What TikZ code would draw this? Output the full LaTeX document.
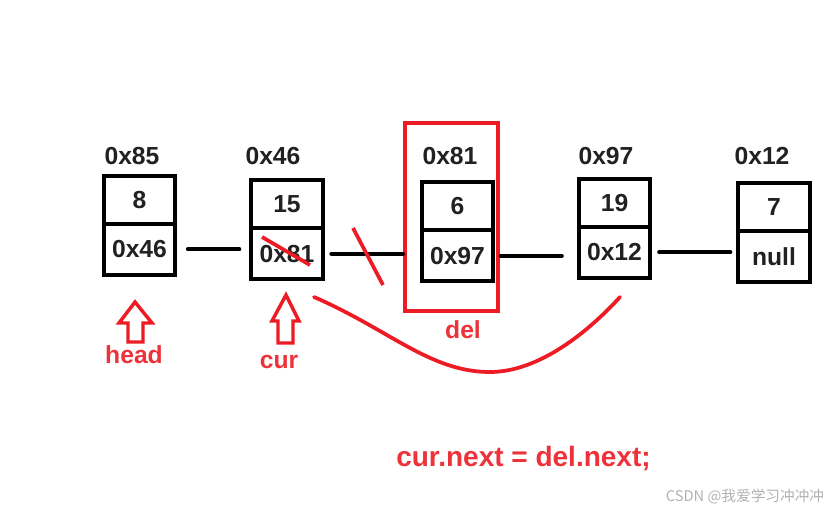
\documentclass[tikz,border=0pt]{standalone}
\usepackage{fontspec}
\setmainfont{Liberation Sans}
\newfontfamily\cjk{Noto Sans CJK SC}
\usetikzlibrary{positioning}
\definecolor{markred}{RGB}{237,28,36}
\definecolor{textred}{RGB}{238,50,58}
\begin{document}
\begin{tikzpicture}[
    x = 0.75pt, y = -0.75pt,
    font = \fontsize{18.5pt}{22pt}\selectfont\bfseries,
    cell/.style = {rectangle, draw, line width=3pt, minimum width=53.5pt, inner sep=0pt, outer sep=0pt, text=black!87},
    valcell/.style = {cell, minimum height=36pt},
    ptrcell/.style = {cell, minimum height=38pt},
    addr/.style = {text=black!87},
    link/.style = {line width=3pt, line cap=round},
    cross/.style = {draw=markred, line width=2.8pt},
    ptr/.style = {draw=markred, line width=2.6pt, line join=miter},
    tag/.style = {text=textred}
]
    \fill[white] (0,0) rectangle (839,513);
    \useasboundingbox (0,0) rectangle (839,513);

    % the list nodes
    \node[valcell] (v1) at (139.5,200) {8};
    \node[ptrcell, below=0pt of v1] (p1) {0x46};
    \node[addr] (a1) at (132,156) {0x85};

    \node[valcell] (v2) at (287,204.5) {15};
    \node[ptrcell, below=0pt of v2] (p2) {0x81};
    \node[addr] (a2) at (273,156) {0x46};

    \node[valcell] (v3) at (457.5,206.5) {6};
    \node[ptrcell, below=0pt of v3] (p3) {0x97};
    \node[addr] (a3) at (450,156) {0x81};

    \node[valcell] (v4) at (614.5,203) {19};
    \node[ptrcell, below=0pt of v4] (p4) {0x12};
    \node[addr] (a4) at (606,156) {0x97};

    \node[valcell] (v5) at (774,207.5) {7};
    \node[ptrcell, below=0pt of v5] (p5) {null};
    \node[addr] (a5) at (762,156) {0x12};

    % node to delete
    \node[draw=markred, line width=3pt, minimum width=69.75pt, minimum height=141pt, inner sep=0pt, outer sep=0pt] (delbox) at (451.5,217) {};
    \node[tag] (del) at (463,330) {del};

    % links
    \draw[link, shorten <=9.5pt, shorten >=9pt] (p1.east) -- (p1.east -| p2.west);
    \draw[link, shorten <=6.5pt, shorten >=1.5pt] (p2.east) -- (p2.east -| delbox.west);
    \draw[link, shorten <=2pt, shorten >=12.75pt] (p3.east -| delbox.east) -- (p3.east -| p4.west);
    \draw[link, shorten <=6.75pt, shorten >=6pt] (p4.east) -- (p4.east -| p5.west);

    % crossed out and new link
    \draw[cross] (262,237) -- (310,265);
    \draw[cross] (353,228) -- (383,285);
    \draw[cross, line cap=round] (314,297) .. controls (390,330) and (430,372) .. (490,372)
        .. controls (540,372) and (590,330) .. (620,297);

    % pointers
    \draw[ptr] (135,302) -- (152,323) -- (143,323) -- (143,342) -- (128,342) -- (128,323) -- (119,323) -- cycle;
    \node[tag] (head) at (134,355) {head};
    \draw[ptr] (286,295) -- (299,321) -- (293,321) -- (293,343) -- (278,343) -- (278,321) -- (272,321) -- cycle;
    \node[tag] (cur) at (279,362) {cur};

    \node[tag, font=\fontsize{21pt}{25pt}\selectfont\bfseries] (code) at (523.5,459) {cur.next = del.next;};
    \node[text=black!30, font=\cjk\fontsize{11pt}{13pt}\selectfont] (wm) at (745,497) {CSDN @我爱学习冲冲冲};
\end{tikzpicture}
\end{document}
